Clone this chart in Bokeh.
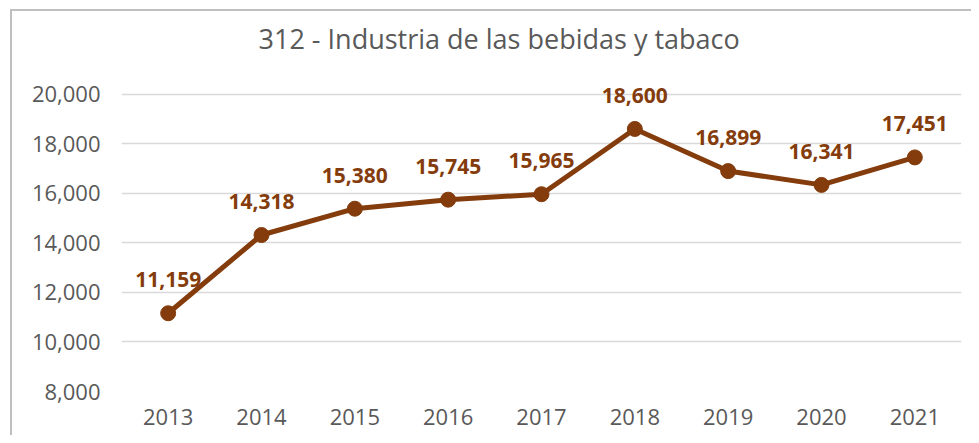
from bokeh.plotting import figure
from bokeh.models import ColumnDataSource, Range1d, FixedTicker, NumeralTickFormatter, LabelSet
from bokeh.core.properties import value
from bokeh.embed import file_html
from bokeh.resources import INLINE

years = ["2013", "2014", "2015", "2016", "2017", "2018", "2019", "2020", "2021"]
values = [11159, 14318, 15380, 15745, 15965, 18600, 16899, 16341, 17451]
labels = [f"{v:,}" for v in values]
y_ticks = [8000, 10000, 12000, 14000, 16000, 18000, 20000]
title_text = "312 - Industria de las bebidas y tabaco"

BROWN = "#843C0C"
FONT = "Open Sans"
BORDER = "#BFBFBF"

src = ColumnDataSource(dict(year=years, value=values, label=labels))

p = figure(x_range=years, y_range=Range1d(8000, 21000), width=971, height=435,
           output_backend="svg", toolbar_location=None,
           min_border_left=121, min_border_right=10, min_border_top=69, min_border_bottom=44)

p.border_fill_color = None
p.background_fill_color = "white"
p.styles = {
    "background": (f"linear-gradient({BORDER},{BORDER}) 10px 9px / 2px 100% no-repeat, "
                   f"linear-gradient({BORDER},{BORDER}) 10px 9px / 100% 2px no-repeat, white"),
}

p.title.text = title_text
p.title.align = "left"
p.title.offset = 137
p.title.text_font = FONT
p.title.text_font_size = "27px"
p.title.text_font_style = "normal"
p.title.text_color = "#595959"
p.title.standoff = 25

p.outline_line_color = None
p.xgrid.grid_line_color = None
p.ygrid.grid_line_color = "#D9D9D9"
p.ygrid.grid_line_width = 1.5

p.yaxis.ticker = FixedTicker(ticks=y_ticks)
p.yaxis.formatter = NumeralTickFormatter(format="0,0")
for ax in (p.xaxis[0], p.yaxis[0]):
    ax.axis_line_color = None
    ax.major_tick_line_color = None
    ax.minor_tick_line_color = None
    ax.major_tick_out = 0
    ax.major_tick_in = 0
    ax.major_label_text_font = FONT
    ax.major_label_text_font_size = "22px"
    ax.major_label_text_color = "#595959"
p.yaxis.major_label_standoff = 21
p.xaxis.major_label_standoff = 17

p.line("year", "value", source=src, line_color=BROWN, line_width=5)
p.scatter("year", "value", source=src, size=15, fill_color=BROWN, line_color=BROWN)

p.add_layout(LabelSet(x="year", y="value", text="label", source=src,
                      text_align="center", text_baseline="alphabetic", y_offset=26,
                      text_font=value(FONT), text_font_size="21px", text_font_style="bold",
                      text_color=BROWN))

open("out.html", "w").write(file_html(p, INLINE))
